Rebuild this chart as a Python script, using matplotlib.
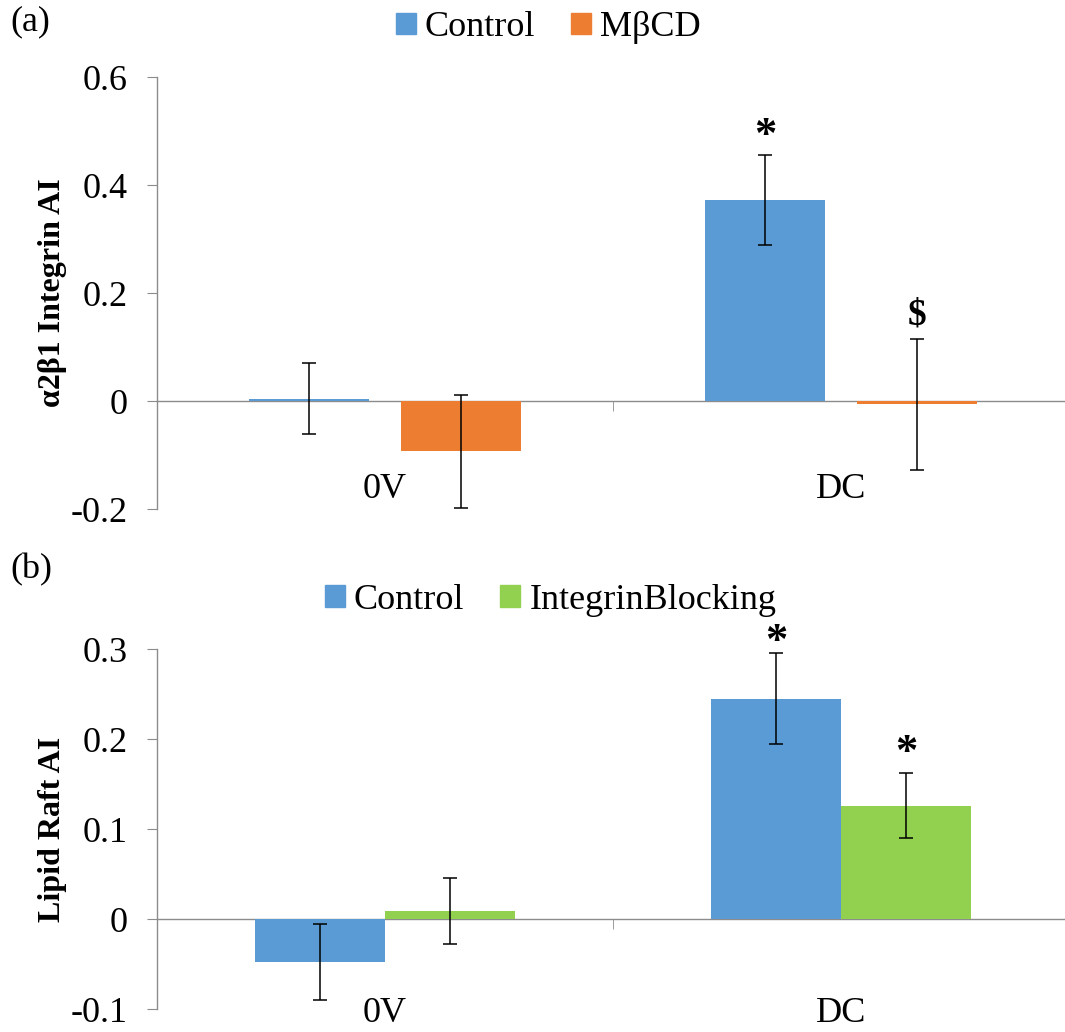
import numpy as np
import matplotlib
matplotlib.use("Agg")
import matplotlib.pyplot as plt
import matplotlib.ticker as ticker
from matplotlib.patches import Patch

plt.rcParams['font.family'] = ['Liberation Serif', 'DejaVu Serif']

categories = ['0V', 'DC']

# panel (a): a2b1 integrin AI
a_series = ['Control', 'M\u03b2CD']
a_values = [[0.004, 0.372], [-0.093, -0.006]]
a_errors = [[0.066, 0.084], [0.105, 0.121]]
a_marks = [['', '*'], ['', '$']]
a_mark_y = [[0, 0.49], [0, 0.16]]

# panel (b): lipid raft AI
b_series = ['Control', 'IntegrinBlocking']
b_values = [[-0.048, 0.245], [0.009, 0.126]]
b_errors = [[0.042, 0.051], [0.037, 0.036]]
b_marks = [['', '*'], ['', '*']]
b_mark_y = [[0, 0.308], [0, 0.184]]

blue = '#5B9BD5'
orange = '#ED7D31'
green = '#92D050'
axis_grey = '#8C8C8C'


def draw_panel(ax, series, values, errors, marks, mark_y, colors,
               width, offset, ylim, step, ylabel, label_pad):
    x = np.arange(len(categories))
    for i, name in enumerate(series):
        xs = x + (i - 0.5) * 2 * offset
        ax.bar(xs, values[i], width, color=colors[i], label=name, zorder=2)
        ax.errorbar(xs, values[i], yerr=errors[i], fmt='none', ecolor='black',
                    elinewidth=1.1, capsize=5, capthick=1.1, zorder=3)
        for xx, m, my in zip(xs, marks[i], mark_y[i]):
            if m:
                size = 32 if m == '*' else 27
                ax.text(xx, my, m, ha='center', va='center', fontsize=size,
                        fontweight='bold')

    ax.set_xlim(-0.5, 1.5)
    ax.set_ylim(*ylim)
    ax.yaxis.set_major_locator(ticker.MultipleLocator(step))
    ax.yaxis.set_major_formatter(ticker.FuncFormatter(
        lambda v, p: '0' if abs(v) < 1e-9 else f'{v:.1f}'))

    ax.spines['top'].set_visible(False)
    ax.spines['right'].set_visible(False)
    ax.spines['bottom'].set_position(('data', 0))
    for s in ('left', 'bottom'):
        ax.spines[s].set_color(axis_grey)
        ax.spines[s].set_linewidth(1.0)
    ax.spines['bottom'].set_zorder(1)

    ax.set_xticks(x)
    ax.set_xticklabels(categories)
    ax.set_xticks([0.5], minor=True)
    ax.tick_params(axis='x', which='major', length=0, pad=label_pad,
                   labelsize=26)
    ax.tick_params(axis='x', which='minor', length=7, color=axis_grey,
                   direction='out')
    ax.tick_params(axis='y', length=7, color=axis_grey, pad=14, labelsize=26)
    ax.set_ylabel(ylabel, fontsize=23, fontweight='bold', labelpad=3)


fig = plt.figure(figsize=(10.65, 10.32), dpi=100)

ax1 = fig.add_axes([157 / 1065, 523 / 1032, 912 / 1065, 432 / 1032])
draw_panel(ax1, a_series, a_values, a_errors, a_marks, a_mark_y,
           [blue, orange], 0.265, 0.1667, (-0.2, 0.6), 0.2,
           '\u03b12\u03b21 Integrin AI', 52)

ax2 = fig.add_axes([157 / 1065, 23 / 1032, 912 / 1065, 360 / 1032])
draw_panel(ax2, b_series, b_values, b_errors, b_marks, b_mark_y,
           [blue, green], 0.285, 0.1425, (-0.1, 0.3), 0.1,
           'Lipid Raft AI', 56)

legend_kw = dict(loc='center', ncol=2, frameon=False, fontsize=26,
                 handlelength=0.55, handleheight=0.55, handletextpad=0.25,
                 columnspacing=1.0, borderpad=0)
fig.legend(handles=[Patch(color=blue, label=a_series[0]),
                    Patch(color=orange, label=a_series[1])],
           bbox_to_anchor=(0.515, 0.973), **legend_kw)
fig.legend(handles=[Patch(color=blue, label=b_series[0]),
                    Patch(color=green, label=b_series[1])],
           bbox_to_anchor=(0.517, 0.418), **legend_kw)

fig.text(10 / 1065, 1 - 22 / 1032, '(a)', fontsize=26, va='center')
fig.text(10 / 1065, 1 - 570 / 1032, '(b)', fontsize=26, va='center')

plt.savefig('out.png', dpi=100)
